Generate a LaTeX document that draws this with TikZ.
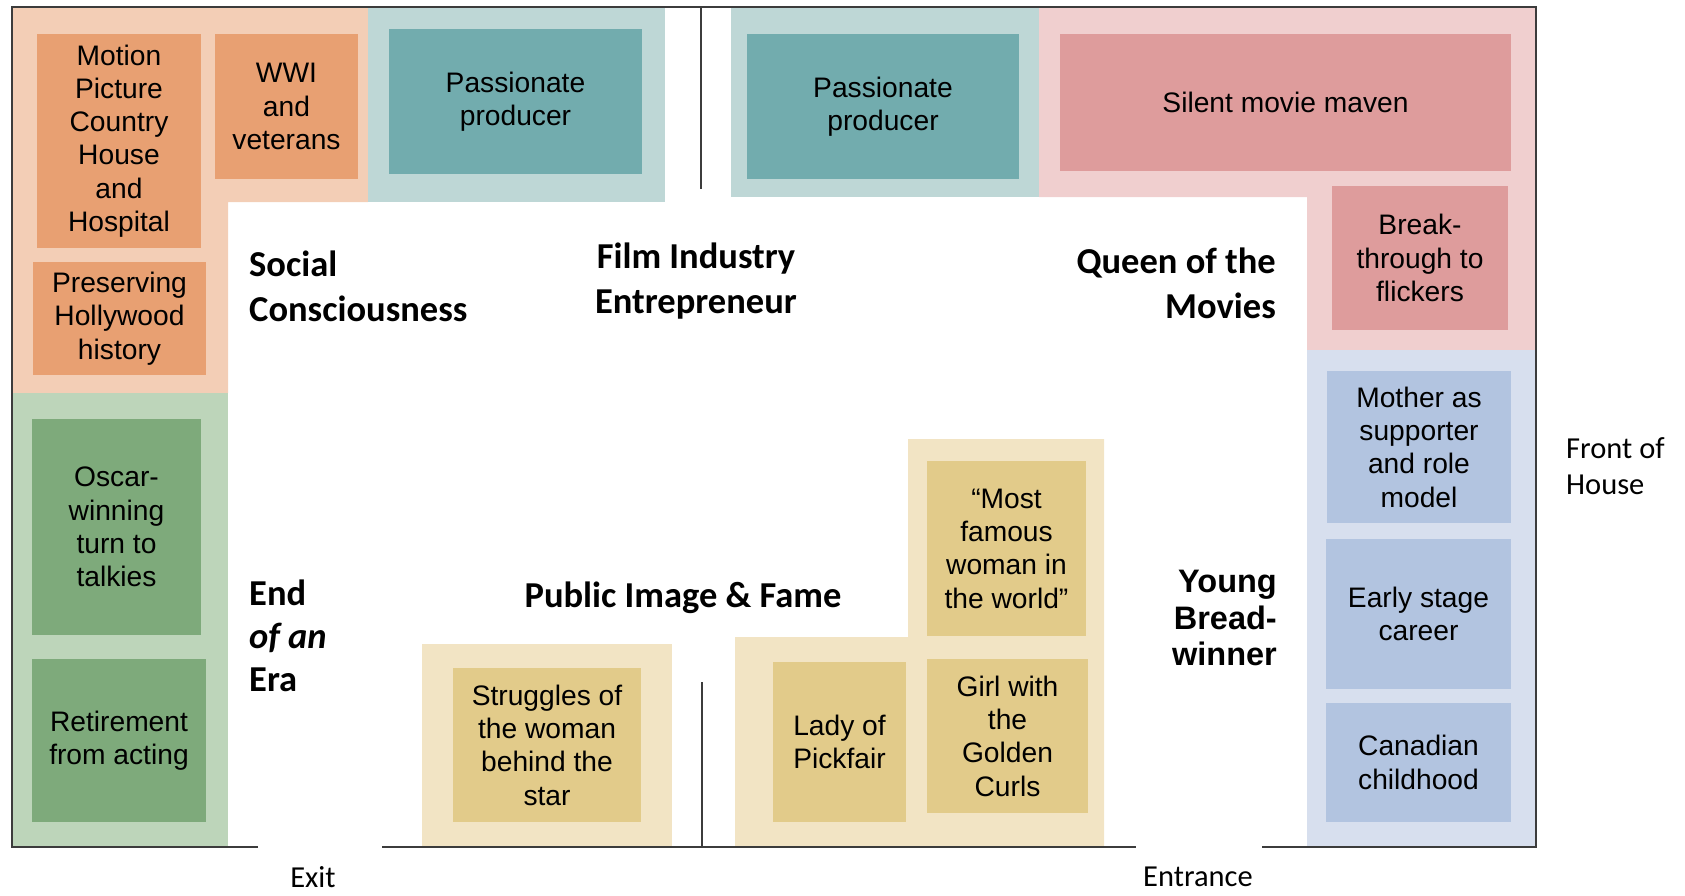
\documentclass[tikz,border=0pt]{standalone}
\usepackage{fontspec}
\setmainfont{Liberation Sans}
\newfontfamily\calibri{Carlito}
\usetikzlibrary{positioning}
\definecolor{peachzone}{RGB}{243,206,182}
\definecolor{peachbox}{RGB}{232,160,114}
\definecolor{tealzone}{RGB}{190,215,214}
\definecolor{tealbox}{RGB}{114,172,174}
\definecolor{pinkzone}{RGB}{240,207,207}
\definecolor{pinkbox}{RGB}{222,156,156}
\definecolor{bluezone}{RGB}{215,223,238}
\definecolor{bluebox}{RGB}{178,196,224}
\definecolor{greenzone}{RGB}{189,213,186}
\definecolor{greenbox}{RGB}{126,170,123}
\definecolor{goldzone}{RGB}{242,228,196}
\definecolor{goldbox}{RGB}{226,203,138}
\definecolor{wallcolor}{RGB}{60,60,60}
\tikzset{
  exhibit/.style={inner sep=0pt, align=center, font=\fontsize{28.2}{33.3}\selectfont},
  theme/.style={inner sep=0pt, font=\calibri\bfseries\fontsize{36.5}{45}\selectfont},
  sign/.style={inner sep=0pt, align=left, font=\calibri\fontsize{30.5}{36.5}\selectfont},
  wall/.style={draw=wallcolor, line width=1.6pt}
}

\begin{document}
\begin{tikzpicture}[x=1pt, y=-1pt]
    \useasboundingbox (0,0) rectangle (1685,895);

    % Zones
    \fill[peachzone] (12,7) -- (368,7) -- (368,202) -- (228,202) -- (228,393) -- (12,393) -- cycle;
    \fill[tealzone] (368,7) rectangle (665,202);
    \fill[tealzone] (731,7) rectangle (1039,197);
    \fill[pinkzone] (1039,7) -- (1536,7) -- (1536,350) -- (1307,350) -- (1307,197) -- (1039,197) -- cycle;
    \fill[bluezone] (1307,350) rectangle (1536,847);
    \fill[greenzone] (12,393) rectangle (228,847);
    \fill[goldzone] (422,644) rectangle (672,847);
    \fill[goldzone] (735,637) -- (908,637) -- (908,439) -- (1104,439) -- (1104,847) -- (735,847) -- cycle;

    % Social Consciousness
    \node[exhibit, fill=peachbox, minimum width=164pt, minimum height=214pt] (mpch) at (119,141) {Motion\\Picture\\Country\\House\\and\\Hospital};
    \node[exhibit, fill=peachbox, minimum width=143pt, minimum height=145pt] (wwi) at (286.5,106.5) {WWI\\and\\veterans};
    \node[exhibit, fill=peachbox, minimum width=173pt, minimum height=113pt] (preserve) at (119.5,318.5) {Preserving\\Hollywood\\history};

    % Film Industry Entrepreneur
    \node[exhibit, fill=tealbox, minimum width=253pt, minimum height=145pt] (producer1) at (515.5,101.5) {Passionate\\producer};
    \node[exhibit, fill=tealbox, minimum width=272pt, minimum height=145pt] (producer2) at (883,106.5) {Passionate\\producer};

    % Queen of the Movies
    \node[exhibit, fill=pinkbox, minimum width=451pt, minimum height=137pt] (maven) at (1285.5,102.5) {Silent movie maven};
    \node[exhibit, fill=pinkbox, minimum width=176pt, minimum height=144pt] (flickers) at (1420,258) {Break-\\through to\\flickers};

    % Young Bread-winner
    \node[exhibit, fill=bluebox, minimum width=184pt, minimum height=152pt] (mother) at (1419,447) {Mother as\\supporter\\and role\\model};
    \node[exhibit, fill=bluebox, minimum width=185pt, minimum height=150pt] (stage) at (1418.5,614) {Early stage\\career};
    \node[exhibit, fill=bluebox, minimum width=185pt, minimum height=119pt] (childhood) at (1418.5,762.5) {Canadian\\childhood};

    % End of an Era
    \node[exhibit, fill=greenbox, minimum width=169pt, minimum height=216pt] (oscar) at (116.5,527) {Oscar-\\winning\\turn to\\talkies};
    \node[exhibit, fill=greenbox, minimum width=174pt, minimum height=163pt] (retire) at (119,740.5) {Retirement\\from acting};

    % Public Image & Fame
    \node[exhibit, fill=goldbox, minimum width=188pt, minimum height=154pt] (struggles) at (547,745) {Struggles of\\the woman\\behind the\\star};
    \node[exhibit, fill=goldbox, minimum width=159pt, minimum height=175pt] (famous) at (1006.5,548.5) {“Most\\famous\\woman in\\the world”};
    \node[exhibit, fill=goldbox, minimum width=133pt, minimum height=160pt] (pickfair) at (839.5,742) {Lady of\\Pickfair};
    \node[exhibit, fill=goldbox, minimum width=161pt, minimum height=154pt] (curls) at (1007.5,736) {Girl with\\the\\Golden\\Curls};

    % Walls
    \draw[wall] (258,847) -- (12,847) -- (12,7) -- (1536,7) -- (1536,847) -- (1262,847);
    \draw[wall] (382,847) -- (1136,847);
    \draw[wall] (701,7) -- (701,189);
    \draw[wall] (702,682) -- (702,847);

    % Theme titles
    \node[theme, align=left, anchor=west] (social) at (249,286) {Social\\Consciousness};
    \node[theme, align=center] (film) at (696,281) {Film Industry\\Entrepreneur};
    \node[theme, align=right, anchor=east] (queen) at (1276,283) {Queen of the\\Movies};
    \node[theme, align=left, anchor=west, font=\calibri\bfseries\fontsize{36.5}{43}\selectfont] (era) at (249,636) {End\\{\itshape of an}\\Era};
    \node[theme] (fame) at (683,598) {Public Image \& Fame};
    \node[inner sep=0pt, align=right, anchor=east, font=\bfseries\fontsize{32.5}{36.7}\selectfont] (bread) at (1277,618) {Young\\Bread-\\winner};

    % Signs
    \node[sign, anchor=west] (house) at (1566,466) {Front of\\House};
    \node[sign] (exit) at (313,877) {Exit};
    \node[sign] (entrance) at (1198,877) {Entrance};
\end{tikzpicture}
\end{document}
